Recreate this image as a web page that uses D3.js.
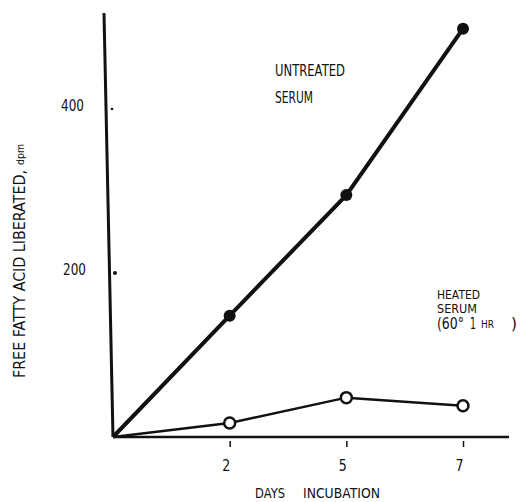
<!DOCTYPE html>
<html><head><meta charset="utf-8">
<script src="https://cdn.jsdelivr.net/npm/d3@7"></script>
<style>body{margin:0;background:#fff}svg{display:block}text{font-family:"DejaVu Sans",sans-serif;fill:#111}</style>
</head><body>
<script>
const days = ["0","2","5","7"];
const untreated = [0, 148, 295, 498];
const heated = [0, 17, 48, 38];
const yTicks = [200, 400];
const xTickLabels = ["2","5","7"];

const W = 523, H = 502;
const svg = d3.select("body").append("svg").attr("width", W).attr("height", H);
const x = d3.scalePoint().domain(days).range([113, 463]);
const y = d3.scaleLinear().domain([0, 500]).range([437, 27]);

function label(xp, yb, str, len, size) {
  return svg.append("text").attr("x", xp).attr("y", yb).attr("font-size", size || 15)
    .attr("textLength", len).attr("lengthAdjust", "spacingAndGlyphs").text(str);
}

// x axis
svg.append("line").attr("x1", x("0")).attr("x2", 509).attr("y1", y(0)).attr("y2", y(0))
  .attr("stroke", "#111").attr("stroke-width", 2.5);
const xa = d3.axisBottom(x).tickValues(xTickLabels).tickSize(6).tickPadding(0);
const gx = svg.append("g").attr("transform", `translate(0,${y(0)+4})`).call(xa);
gx.select(".domain").remove();
gx.selectAll(".tick line").attr("stroke", "#111").attr("stroke-width", 1.5);
gx.selectAll(".tick text").attr("font-size", 15).attr("fill", "#111")
  .attr("dy", null).attr("y", 30).attr("x", -4).attr("textLength", 8).attr("lengthAdjust", "spacingAndGlyphs");

// y axis (slightly slanted, as drawn)
svg.append("line").attr("x1", 104).attr("y1", 13).attr("x2", x("0")).attr("y2", y(0))
  .attr("stroke", "#111").attr("stroke-width", 3);
svg.selectAll(".ydot").data(yTicks).enter().append("circle")
  .attr("cx", d => d === 200 ? 115 : 112).attr("cy", d => y(d))
  .attr("r", d => d === 200 ? 2 : 1.3).attr("fill", "#111");
svg.selectAll(".ylab").data(yTicks).enter().append("text")
  .attr("x", d => d === 200 ? 63 : 61).attr("y", d => y(d) + 1.5)
  .attr("font-size", 15).attr("textLength", 23).attr("lengthAdjust", "spacingAndGlyphs").text(d => d);

// y title
svg.append("text").attr("transform", "translate(25,378) rotate(-90)")
  .attr("font-size", 15).attr("textLength", 208).attr("lengthAdjust", "spacingAndGlyphs")
  .text("FREE FATTY ACID LIBERATED,");
svg.append("text").attr("transform", "translate(24,165) rotate(-90)")
  .attr("font-size", 10).attr("textLength", 21).attr("lengthAdjust", "spacingAndGlyphs")
  .text("dpm");

// x title
label(255, 498, "DAYS", 30, 14);
label(303, 498, "INCUBATION", 77, 14);

// lines
const line = d3.line().x((d, i) => x(days[i])).y(d => y(d));
svg.append("path").datum(untreated).attr("d", line).attr("fill", "none").attr("stroke", "#111").attr("stroke-width", 4);
svg.append("path").datum(heated).attr("d", line).attr("fill", "none").attr("stroke", "#111").attr("stroke-width", 2.5);
svg.selectAll(".pu").data(untreated.slice(1)).enter().append("circle")
  .attr("cx", (d, i) => x(days[i+1])).attr("cy", d => y(d)).attr("r", 6).attr("fill", "#111");
svg.selectAll(".ph").data(heated.slice(1)).enter().append("circle")
  .attr("cx", (d, i) => x(days[i+1])).attr("cy", d => y(d)).attr("r", 5.5)
  .attr("fill", "#fff").attr("stroke", "#111").attr("stroke-width", 2.5);

// annotations
label(275, 76, "UNTREATED", 70, 15);
label(275, 103, "SERUM", 38, 15);
label(437, 298.5, "HEATED", 43, 13);
label(437, 313, "SERUM", 40, 13);
label(437, 329, "(60°", 27, 15);
label(470, 329, "1", 6, 15);
label(481, 328, "HR", 13, 10);
label(511, 329, ")", 6, 15);
</script>
</body></html>
